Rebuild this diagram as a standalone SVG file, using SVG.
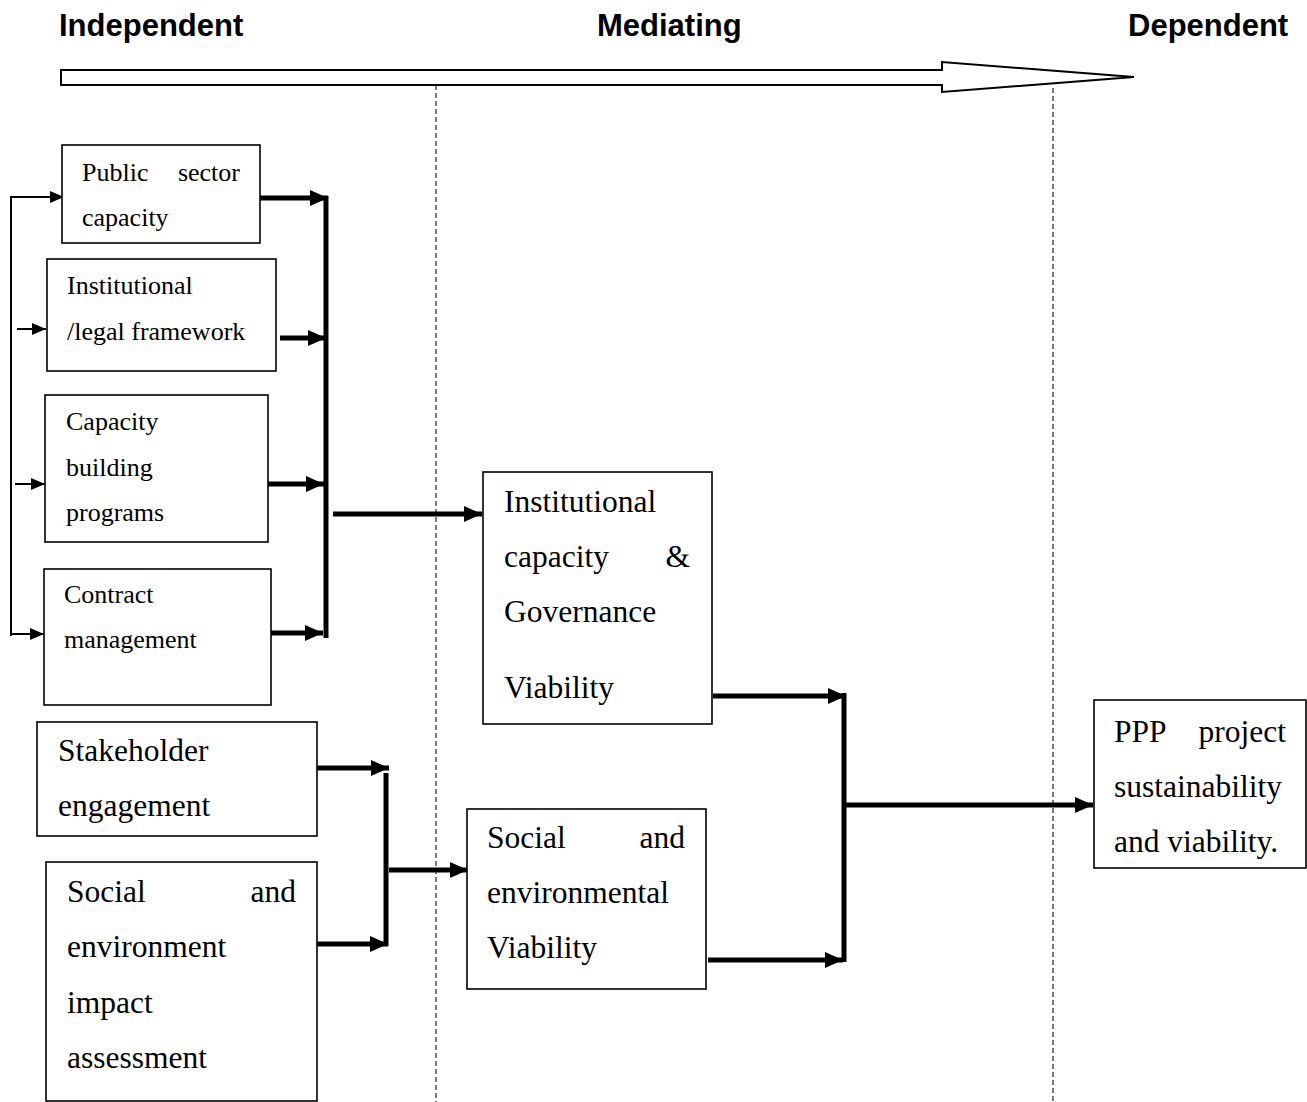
<svg xmlns="http://www.w3.org/2000/svg" width="1307" height="1102" viewBox="0 0 1307 1102">
<style>
.box{fill:#fff;stroke:#000;stroke-width:1.6}
.s{font-family:"Liberation Serif","Times New Roman",serif;font-size:26px;fill:#000}
.l{font-family:"Liberation Serif","Times New Roman",serif;font-size:31.5px;fill:#000}
.h{font-family:"Liberation Sans",Arial,sans-serif;font-size:31px;font-weight:bold;fill:#000}
.thick{stroke:#000;stroke-width:5;fill:none}
.thin{stroke:#000;stroke-width:2;fill:none}
.dash{stroke:#111;stroke-width:1.1;stroke-dasharray:5 3;fill:none}
</style>
<defs>
<marker id="ah" markerUnits="userSpaceOnUse" markerWidth="18" markerHeight="16" refX="18" refY="8" orient="auto"><path d="M0,0 L18,8 L0,16 z" fill="#000"/></marker>
<marker id="as" markerUnits="userSpaceOnUse" markerWidth="14" markerHeight="12" refX="14" refY="6" orient="auto"><path d="M0,0 L14,6 L0,12 z" fill="#000"/></marker>
</defs>
<rect width="1307" height="1102" fill="#fff"/>
<g id="headers">
<text class="h" x="59" y="36">Independent</text>
<text class="h" x="597" y="36">Mediating</text>
<text class="h" x="1128" y="36">Dependent</text>
<polygon points="61,70 942,70 942,62 1134,77 942,92 942,85 61,85" fill="#fff" stroke="#000" stroke-width="2"/>
<line class="dash" x1="436" y1="85" x2="436" y2="1102"/>
<line class="dash" x1="1053" y1="88" x2="1053" y2="1102"/>
</g>
<g id="connectors">
<path class="thin" d="M11,636 L11,197 L64,197" marker-end="url(#as)"/>
<path class="thin" d="M17,329 L46,329" marker-end="url(#as)"/>
<path class="thin" d="M15,484 L45,484" marker-end="url(#as)"/>
<path class="thin" d="M11,634 L44,634" marker-end="url(#as)"/>
<path class="thick" d="M260,198 L328,198" marker-end="url(#ah)"/>
<path class="thick" d="M280,338 L326,338" marker-end="url(#ah)"/>
<path class="thick" d="M268,484 L324,484" marker-end="url(#ah)"/>
<path class="thick" d="M271,633 L323,633" marker-end="url(#ah)"/>
<path class="thick" d="M326,196 L326,638"/>
<path class="thick" d="M333,514 L482,514" marker-end="url(#ah)"/>
<path class="thick" d="M317,768 L389,768" marker-end="url(#ah)"/>
<path class="thick" d="M317,944 L388,944" marker-end="url(#ah)"/>
<path class="thick" d="M386,773 L386,946"/>
<path class="thick" d="M389,870 L468,870" marker-end="url(#ah)"/>
<path class="thick" d="M713,696 L846,696" marker-end="url(#ah)"/>
<path class="thick" d="M708,960 L843,960" marker-end="url(#ah)"/>
<path class="thick" d="M844,693 L844,962"/>
<path class="thick" d="M846,805 L1093,805" marker-end="url(#ah)"/>
</g>
<g id="n1"><rect class="box" x="62" y="145" width="198" height="98"/>
<text class="s" x="82" y="181">Public</text><text class="s" x="240" y="181" text-anchor="end">sector</text>
<text class="s" x="82" y="226">capacity</text></g>
<g id="n2"><rect class="box" x="47" y="259" width="229" height="112"/>
<text class="s" x="67" y="294">Institutional</text>
<text class="s" x="67" y="340">/legal framework</text></g>
<g id="n3"><rect class="box" x="45" y="395" width="223" height="147"/>
<text class="s" x="66" y="430">Capacity</text>
<text class="s" x="66" y="476">building</text>
<text class="s" x="66" y="521">programs</text></g>
<g id="n4"><rect class="box" x="44" y="569" width="227" height="136"/>
<text class="s" x="64" y="603">Contract</text>
<text class="s" x="64" y="648">management</text></g>
<g id="n5"><rect class="box" x="37" y="722" width="280" height="114"/>
<text class="l" x="58" y="761">Stakeholder</text>
<text class="l" x="58" y="816">engagement</text></g>
<g id="n6"><rect class="box" x="46" y="862" width="271" height="239"/>
<text class="l" x="67" y="902">Social</text><text class="l" x="296" y="902" text-anchor="end">and</text>
<text class="l" x="67" y="957">environment</text>
<text class="l" x="67" y="1013">impact</text>
<text class="l" x="67" y="1068">assessment</text></g>
<g id="n7"><rect class="box" x="483" y="472" width="229" height="252"/>
<text class="l" x="504" y="512">Institutional</text>
<text class="l" x="504" y="567">capacity</text><text class="l" x="690" y="567" text-anchor="end">&amp;</text>
<text class="l" x="504" y="622">Governance</text>
<text class="l" x="504" y="698">Viability</text></g>
<g id="n8"><rect class="box" x="467" y="809" width="239" height="180"/>
<text class="l" x="487" y="848">Social</text><text class="l" x="685" y="848" text-anchor="end">and</text>
<text class="l" x="487" y="903">environmental</text>
<text class="l" x="487" y="958">Viability</text></g>
<g id="n9"><rect class="box" x="1094" y="700" width="212" height="168"/>
<text class="l" x="1114" y="742">PPP</text><text class="l" x="1286" y="742" text-anchor="end">project</text>
<text class="l" x="1114" y="797">sustainability</text>
<text class="l" x="1114" y="852">and viability.</text></g>
</svg>
